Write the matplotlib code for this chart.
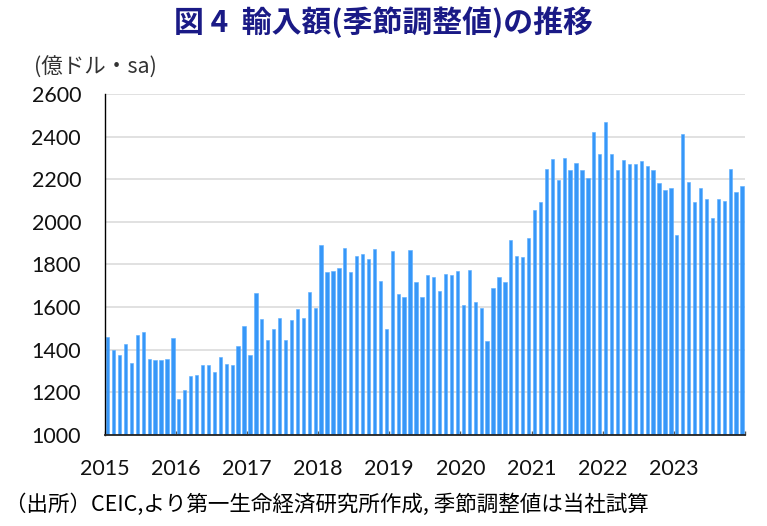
import numpy as np
import matplotlib
matplotlib.use("Agg")
import matplotlib.pyplot as plt

plt.rcParams['font.family'] = ['Noto Sans CJK JP', 'DejaVu Sans']

# monthly imports, seasonally adjusted (100 million USD), Jan 2015 - Dec 2023
v2015 = [1458, 1400, 1375, 1428, 1336, 1467, 1481, 1356, 1350, 1350, 1356, 1453]
v2016 = [1169, 1209, 1278, 1283, 1327, 1327, 1297, 1366, 1331, 1327, 1419, 1511]
v2017 = [1375, 1667, 1545, 1448, 1497, 1550, 1448, 1541, 1589, 1550, 1672, 1598]
v2018 = [1892, 1766, 1769, 1783, 1877, 1766, 1838, 1848, 1828, 1872, 1722, 1497]
v2019 = [1863, 1663, 1648, 1867, 1717, 1648, 1750, 1741, 1677, 1755, 1750, 1769]
v2020 = [1609, 1775, 1623, 1594, 1442, 1692, 1741, 1717, 1916, 1842, 1833, 1925]
v2021 = [2056, 2091, 2247, 2294, 2198, 2298, 2242, 2275, 2242, 2208, 2420, 2319]
v2022 = [2470, 2319, 2242, 2289, 2270, 2270, 2284, 2264, 2242, 2181, 2148, 2158]
v2023 = [1939, 2411, 2188, 2091, 2158, 2105, 2017, 2105, 2100, 2250, 2139, 2167]

years = ['2015', '2016', '2017', '2018', '2019', '2020', '2021', '2022', '2023']
values = v2015 + v2016 + v2017 + v2018 + v2019 + v2020 + v2021 + v2022 + v2023
yticks = [1000, 1200, 1400, 1600, 1800, 2000, 2200, 2400, 2600]

fig = plt.figure(figsize=(7.67, 5.26), dpi=100)
ax = fig.add_axes([0.1365, 0.173, 0.8348, 0.6483])

x = np.arange(len(values)) + 0.5
ax.bar(x, values, width=0.56, color='#3797f8', edgecolor='#5aaeff', linewidth=0.4, zorder=2)

ax.set_xlim(0, len(values))
ax.set_ylim(1000, 2600)
ax.set_yticks(yticks)
ax.set_yticklabels([str(t) for t in yticks], fontsize=15.5, family='Lato')
ax.yaxis.grid(True, color='#d9d9d9', linewidth=1.1, zorder=0)
ax.tick_params(axis='y', length=0, pad=17, labelcolor='#111111')

ticks = np.arange(0, len(values) + 1, 12)
ax.set_xticks(ticks)
ax.set_xticklabels(years + [''], fontsize=15.5, family='Lato')
ax.tick_params(axis='x', direction='in', length=3, width=1, color='#555555', pad=17, labelcolor='#111111')

for s in ['top', 'right']:
    ax.spines[s].set_visible(False)
ax.spines['left'].set_color('black')
ax.spines['bottom'].set_color('#222222')
ax.spines['left'].set_linewidth(1.0)
ax.spines['bottom'].set_linewidth(1.3)

fig.text(0.5, 0.958, '図 4  輸入額(季節調整値)の推移', ha='center', va='center',
         fontsize=21.5, fontweight='bold', color='#1a1a86')
fig.text(0.044, 0.871, '(億ドル・sa)', ha='left', va='center', fontsize=15.5, color='#333333')
fig.text(0.006, 0.04, '（出所）CEIC,より第一生命経済研究所作成, 季節調整値は当社試算',
         ha='left', va='center', fontsize=15.5, color='black')

fig.savefig('out.png', dpi=100)
